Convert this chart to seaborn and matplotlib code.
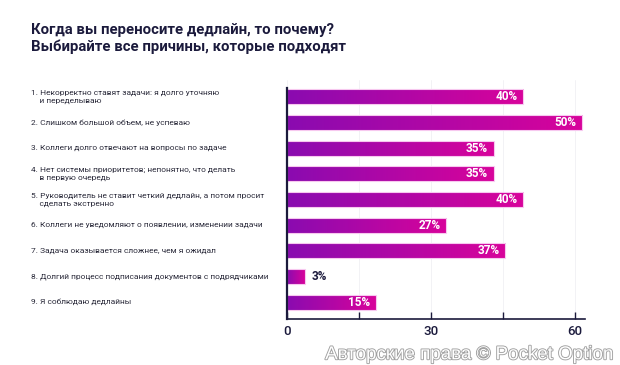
import numpy as np
import pandas as pd
import seaborn as sns
import matplotlib.pyplot as plt
import matplotlib.patheffects as pe
from matplotlib.colors import LinearSegmentedColormap

reasons = [
    "1. Некорректно ставят задачи: я долго уточняю\n    и переделываю",
    "2. Слишком большой объем, не успеваю",
    "3. Коллеги долго отвечают на вопросы по задаче",
    "4. Нет системы приоритетов; непонятно, что делать\n    в первую очередь",
    "5. Руководитель не ставит четкий дедлайн, а потом просит\n    сделать экстренно",
    "6. Коллеги не уведомляют о появлении, изменении задачи",
    "7. Задача оказывается сложнее, чем я ожидал",
    "8. Долгий процесс подписания документов с подрядчиками",
    "9. Я соблюдаю дедлайны",
]
shares = [40, 50, 35, 35, 40, 27, 37, 3, 15]
axis_ticks = [0, 15, 30, 45, 60]
axis_labels = ["0", "", "30", "", "60"]

df = pd.DataFrame({"reason": reasons, "share": shares})

sns.set_theme(style="white")
plt.rcParams["font.family"] = ["Roboto", "DejaVu Sans"]

dark = "#1b1a3c"
grad = LinearSegmentedColormap.from_list("pp", ["#8a0bb0", "#d8039b"])

fig = plt.figure(figsize=(6.2, 3.65), dpi=100)
ax = fig.add_axes([0.4629, 0.126, 0.4806, 0.6548])
ax2 = ax.twiny()

sns.barplot(data=df, x="share", y="reason", orient="h", ax=ax, width=0.58,
            color="#b006a5", edgecolor="#f7c8ef", linewidth=0.8)

xlim = (0, 50.5)
ylim = (8.66, -0.66)
g = np.linspace(0, 1, 256).reshape(1, -1)
for p in ax.patches:
    x0, y0 = p.get_x(), p.get_y()
    w, h = p.get_width(), p.get_height()
    im = ax.imshow(g, cmap=grad, aspect="auto", extent=[x0, x0 + w, y0 + h, y0],
                   zorder=1.5, interpolation="bilinear")
    im.set_clip_path(p)
    p.set_facecolor("none")
    p.set_zorder(2)
ax.set_xlim(*xlim)
ax.set_ylim(*ylim)

# value labels
for i, v in enumerate(shares):
    if v < 10:
        ax.text(v + 1.2, i, f"{v}%", va="center", ha="left", fontsize=8.5,
                fontweight="bold", color=dark)
    else:
        ax.text(v - 0.9, i, f"{v}%", va="center", ha="right", fontsize=8.5,
                fontweight="bold", color="white", zorder=3)

# category labels on the left
for i, r in enumerate(reasons):
    ax.text(-0.859, i, r, transform=ax.get_yaxis_transform(), ha="left",
            va="center", fontsize=6.05, color="#2a2a3a", linespacing=1.4)

ax.set_xticks([])
ax.set_yticks([])
ax.set_xlabel("")
ax.set_ylabel("")
for s in ["top", "right", "bottom"]:
    ax.spines[s].set_visible(False)
ax.spines["left"].set_color(dark)
ax.spines["left"].set_linewidth(1.6)
ax.spines["left"].set_bounds(8.66, -0.36)
ax.set_zorder(ax2.get_zorder() + 1)
ax.patch.set_visible(False)

# displayed axis
ax2.xaxis.set_ticks_position("bottom")
ax2.xaxis.set_label_position("bottom")
ax2.set_xlim(0, 62.1)
ax2.set_xticks(axis_ticks)
ax2.set_xticklabels(axis_labels)
ax2.tick_params(axis="x", direction="in", length=5, width=1, color=dark,
                labelsize=9.5, labelcolor=dark, pad=4)
for lab in ax2.get_xticklabels():
    lab.set_fontweight("medium")
ax2.set_yticks([])
for s in ["top", "right", "left"]:
    ax2.spines[s].set_visible(False)
ax2.spines["bottom"].set_color(dark)
ax2.spines["bottom"].set_linewidth(1.2)
ax2.grid(axis="x", color="#f0f0f4", linewidth=0.6)
ax2.set_facecolor("white")

fig.text(0.05, 0.895, "Когда вы переносите дедлайн, то почему?\nВыбирайте все причины, которые подходят",
         ha="left", va="center", fontsize=10.7, fontweight="bold", color=dark,
         linespacing=1.2)

wm = fig.text(0.988, 0.028, "Авторские права © Pocket Option", ha="right", va="center",
              fontsize=13.5, color="white", family=["Liberation Sans", "DejaVu Sans"])
wm.set_path_effects([pe.Stroke(linewidth=1.3, foreground="#a0a0a0"), pe.Normal()])

fig.savefig("out.png", dpi=100, facecolor="white")
